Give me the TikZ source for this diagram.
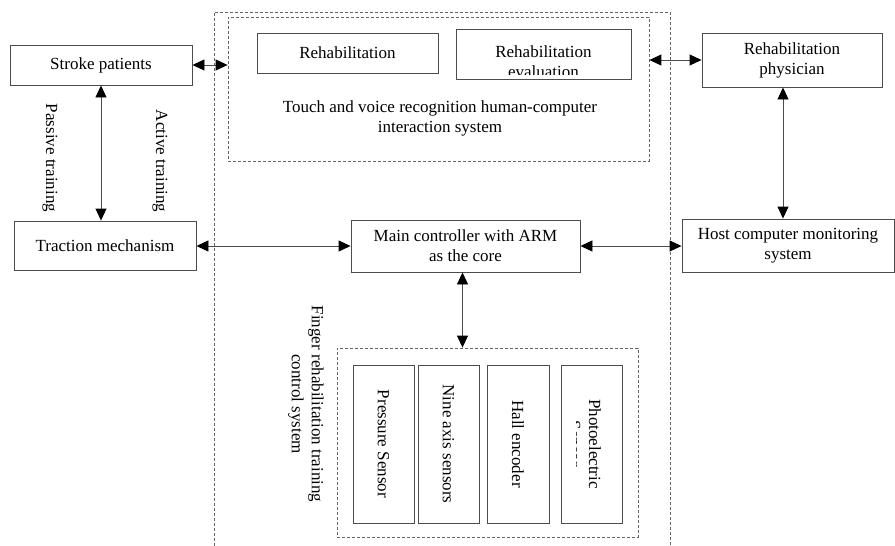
\documentclass[tikz,border=0pt]{standalone}
\usepackage{fontspec}
\setmainfont{Liberation Serif}
\usetikzlibrary{arrows.meta}
\begin{document}
\begin{tikzpicture}[x=1pt,y=-1pt,
 every node/.style={font=\fontsize{17}{20}\selectfont, inner sep=0pt},
 box/.style={draw=black!70, line width=0.9pt, rectangle, align=center},
 dbox/.style={draw=black!60, line width=0.8pt, dash pattern=on 3pt off 2pt},
 biarrow/.style={draw=black!70, line width=0.9pt, {Triangle[length=12pt,width=11pt,color=black]}-{Triangle[length=12pt,width=11pt,color=black]}},
 lbl/.style={rotate=-90, align=center}
]
\useasboundingbox (0,0) rectangle (895,546);

% outer dashed frame
\draw[dbox] (214,546) -- (214,12) -- (670,12) -- (670,546);

% HCI dashed box
\node[dbox, minimum width=421pt, minimum height=144pt] (hci) at (438.5,89) {};
\node[align=center] (hcit) at (440,118) {Touch and voice recognition human-computer\\interaction system};
\node[box, minimum width=181pt, minimum height=40pt] (rehab) at (347.5,53) {Rehabilitation};
\node[box, minimum width=175pt, minimum height=50pt] (eval) at (543.5,54) {};
\begin{scope}
\clip (456,29) rectangle (631,74);
\node[align=center] (evalt) at (543.5,62) {Rehabilitation\\evaluation};
\end{scope}

% left boxes
\node[box, minimum width=182pt, minimum height=40pt] (stroke) at (101,65) {Stroke patients};
\node[box, minimum width=182pt, minimum height=49pt] (traction) at (105,245.5) {Traction mechanism};
\node[lbl] (passive) at (50,158) {Passive training};
\node[lbl] (active) at (160,161) {Active training};

% right boxes
\node[box, minimum width=180pt, minimum height=54pt] (phys) at (792,60) {Rehabilitation\\physician};
\node[box, minimum width=212pt, minimum height=53pt] (host) at (788,245.5) {Host computer monitoring\\system};

% main controller
\node[box, minimum width=229pt, minimum height=52pt] (main) at (465.5,246) {Main controller with ARM\\as the core};

% sensors
\node[lbl] (finger) at (306,404) {Finger rehabilitation training\\control system};
\node[dbox, minimum width=301pt, minimum height=189pt] (sens) at (487.5,442.5) {};
\node[box, rotate=-90, minimum width=158pt, minimum height=61pt] (s1) at (383.5,444) {Pressure Sensor};
\node[box, rotate=-90, minimum width=158pt, minimum height=61pt] (s2) at (448.5,444) {Nine axis sensors};
\node[box, rotate=-90, minimum width=158pt, minimum height=62pt] (s3) at (518,444) {Hall encoder};
\node[box, rotate=-90, minimum width=158pt, minimum height=61pt] (s4) at (591.5,444) {};
\begin{scope}
\clip (576,365) rectangle (622,523);
\node[lbl] (s4t) at (585,444) {Photoelectric\\Sensor};
\end{scope}

% connectors
\draw[biarrow] (stroke.south) -- (stroke.south |- traction.north);
\draw[biarrow] (stroke.east) -- (stroke.east -| hci.west);
\draw[biarrow] (traction.east |- main.west) -- (main.west);
\draw[biarrow] (main.east) -- (main.east -| host.west);
\draw[biarrow] (phys.west) -- (phys.west -| hci.east);
\draw[biarrow] ([xshift=-9pt]phys.south) -- ([xshift=-9pt]phys.south |- host.north);
\draw[biarrow] ([xshift=-3pt]main.south) -- ([xshift=-3pt]main.south |- sens.north);
\end{tikzpicture}
\end{document}
